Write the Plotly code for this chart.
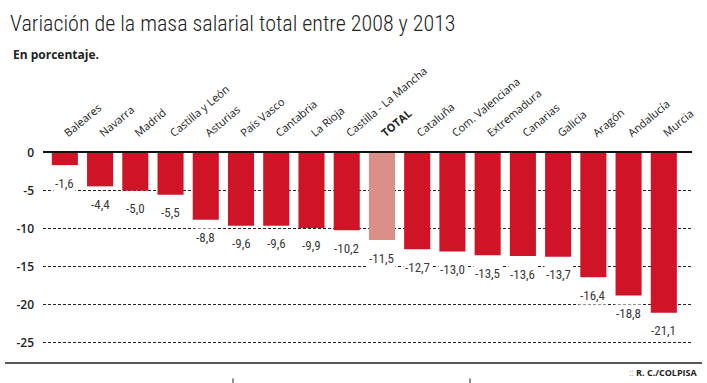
import plotly.graph_objects as go

regions = ["Baleares", "Navarra", "Madrid", "Castilla y León", "Asturias", "País Vasco",
           "Cantabria", "La Rioja", "Castilla - La Mancha", "TOTAL", "Cataluña",
           "Com. Valenciana", "Extremadura", "Canarias", "Galicia", "Aragón",
           "Andalucía", "Murcia"]
values = [-1.6, -4.4, -5.0, -5.5, -8.8, -9.6, -9.6, -9.9, -10.2, -11.5, -12.7,
          -13.0, -13.5, -13.6, -13.7, -16.4, -18.8, -21.1]
y_ticks = [0, -5, -10, -15, -20, -25]

RED = "#cf1428"
PINK = "#dc8f86"
colors = [PINK if r == "TOTAL" else RED for r in regions]
labels = [f"{v:.1f}".replace(".", ",") for v in values]
ticktext = ["<b>TOTAL</b>" if r == "TOTAL" else r for r in regions]

W, H = 707, 383
left, right_px = 43, 692
top_px, zero_y, m25_y = 153, 153, 342
px_per_unit = (m25_y - zero_y) / 25
ymin = -26.8
bottom_px = zero_y + (-ymin) * px_per_unit

fig = go.Figure()
fig.add_trace(go.Bar(
    x=list(range(len(regions))), y=values,
    marker=dict(color=colors, line=dict(width=0)),
    width=0.74, hoverinfo="skip",
))
for i, (v, t) in enumerate(zip(values, labels)):
    fig.add_annotation(x=i, y=v, text=t, showarrow=False, yshift=-18,
                       font=dict(family="Liberation Sans Narrow, Roboto Condensed, Roboto",
                                 size=13, color="#3a3a3a"),
                       bgcolor="white", borderpad=1,
                       xanchor="center", yanchor="middle")

fig.update_layout(
    width=W, height=H,
    margin=dict(l=left, r=W - right_px, t=top_px, b=H - bottom_px, autoexpand=False),
    paper_bgcolor="white", plot_bgcolor="white",
    showlegend=False,
    title=dict(text="Variación de la masa salarial total entre 2008 y 2013",
               x=10 / W, xanchor="left", y=1 - 23 / H, yanchor="middle",
               font=dict(family="Liberation Sans Narrow, Roboto Condensed, Roboto", size=22,
                         color="#222222", weight=300)),
    xaxis=dict(side="top", tickmode="array", tickvals=list(range(len(regions))),
               ticktext=ticktext, tickangle=-40, range=[-0.62, 17.8],
               showline=True, linecolor="#111111", linewidth=1.5,
               showgrid=False, zeroline=False, ticks="", ticklabelstandoff=8,
               tickfont=dict(family="Open Sans", size=11, color="#222222")),
    yaxis=dict(range=[ymin, 0], tickvals=y_ticks, ticktext=[str(t) for t in y_ticks],
               showgrid=True, gridcolor="#222222", gridwidth=1, griddash="3px,2px",
               zeroline=False, showline=False, ticks="", ticklabelstandoff=8,
               tickfont=dict(family="Open Sans", size=12, color="#222222", weight=600)),
)

fig.add_annotation(text="<b>En porcentaje.</b>", xref="paper", yref="paper",
                   x=-(left - 11) / (right_px - left), y=1 + (top_px - 55) / (bottom_px - top_px),
                   xanchor="left", yanchor="middle", showarrow=False,
                   font=dict(family="Open Sans", size=12, color="#222222"))
fig.add_annotation(text="<span style='color:#999'>::</span> <b>R. C./COLPISA</b>",
                   xref="paper", yref="paper",
                   x=(700 - left) / (right_px - left), y=1 - (372 - top_px) / (bottom_px - top_px),
                   xanchor="right", yanchor="middle", showarrow=False,
                   font=dict(family="Open Sans", size=9, color="#222222"))


def px_x(p):
    return (p - left) / (right_px - left)


def px_y(p):
    return 1 - (p - top_px) / (bottom_px - top_px)


fig.add_shape(type="line", xref="paper", yref="paper", x0=px_x(5), x1=px_x(702),
              y0=px_y(362.5), y1=px_y(362.5), line=dict(color="#222222", width=1.5))
for mx in (233, 470):
    fig.add_shape(type="line", xref="paper", yref="paper", x0=px_x(mx), x1=px_x(mx),
                  y0=px_y(378), y1=px_y(384), line=dict(color="#222222", width=1))

fig.write_html("out.html", config={"displayModeBar": False},
               post_script="document.body.style.margin='0';")
